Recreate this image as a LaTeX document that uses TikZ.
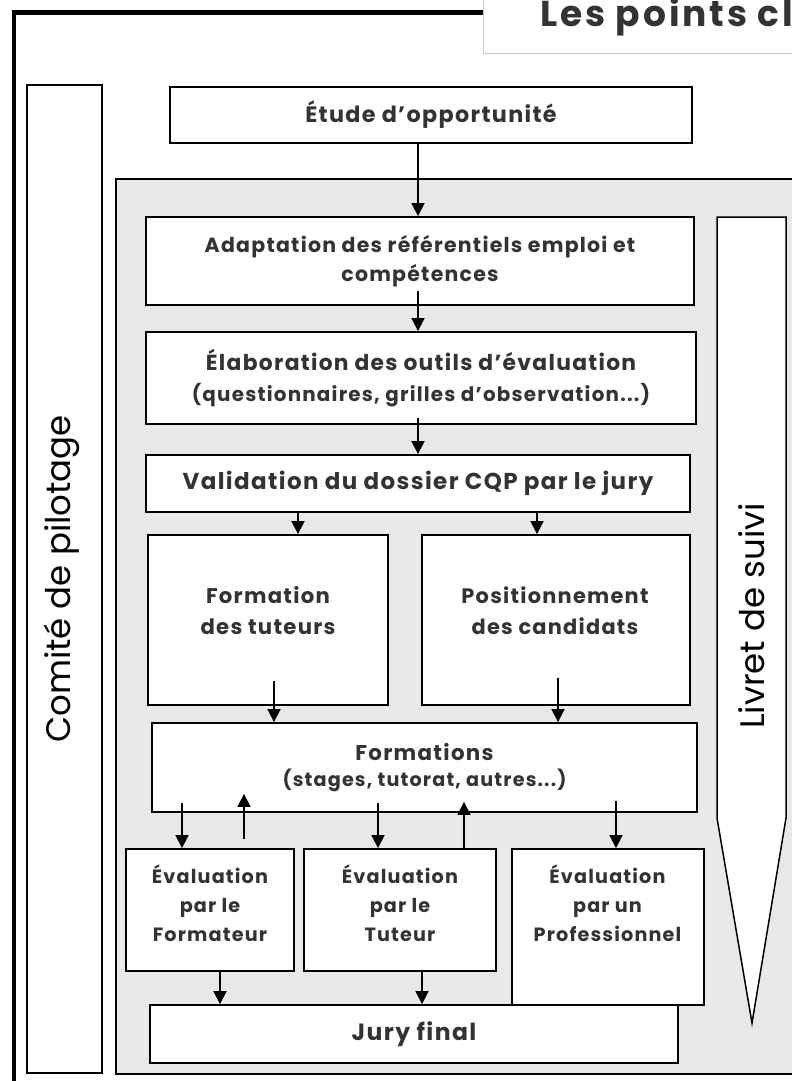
\documentclass[tikz,border=0pt]{standalone}
\usepackage{fontspec}
\setmainfont{Poppins}[LetterSpace=6]
\newfontfamily\gothic{Poppins}
\usetikzlibrary{arrows.meta,calc}
\definecolor{panelgrey}{HTML}{E8E8E8}
\definecolor{ink}{HTML}{333333}
\definecolor{titleline}{HTML}{C8C8C8}
\newcommand\myfs[2]{\fontsize{#1}{#2}\selectfont}
\tikzset{
  box/.style={draw=black, line width=1.8pt, fill=white, inner sep=0pt, align=center, text=ink},
  txt/.style={inner sep=0pt, align=center, text=ink},
  arr/.style={line width=1.6pt, -{Triangle[length=13pt,width=13pt]}},
  sidetext/.style={inner sep=0pt, rotate=90, text=black, font=\gothic\myfs{34}{38}},
}
\begin{document}
\begin{tikzpicture}[x=1pt,y=-1pt]
\useasboundingbox (0,0) rectangle (792,1081);
\clip (0,0) rectangle (792,1081);
% outer frame
\draw[line width=4.5pt, line join=miter] (483,12.5) -- (14,12.5) -- (14,1100);
% title
\node[draw=titleline, line width=1pt, fill=white, minimum width=340pt, minimum height=70pt, anchor=south west] (titlebox) at (483,54) {};
\node[txt, anchor=base west, font=\bfseries\addfontfeature{LetterSpace=8}\myfs{36}{40}] (title) at (540,27) {Les points cl};
% side box
\node[box, minimum width=75pt, minimum height=988pt] (comite) at (64.5,579) {};
\node[sidetext] (comitet) at (62,579) {Comité de pilotage};
% top box
\node[box, minimum width=522pt, minimum height=56pt, font=\bfseries\myfs{22.3}{26}] (etude) at (431,115) {Étude d’opportunité};
% grey panel
\node[draw=black, line width=1.8pt, fill=panelgrey, minimum width=720pt, minimum height=895pt, anchor=north west, inner sep=0pt] (panel) at (115,178) {};
% livret
\draw[line width=1.5pt, fill=white] (717,217) -- (786,217) -- (786,818) -- (752,1023) -- (717,818) -- cycle;
\node[sidetext] (livret) at (752,616) {Livret de suivi};
% boxes
\node[box, minimum width=548pt, minimum height=88pt, font=\bfseries\myfs{20.5}{29}] (adapt) at (420,261) {Adaptation des référentiels emploi et\\compétences};
\node[box, minimum width=550pt, minimum height=92pt, font=\bfseries\myfs{21.8}{31}] (elab) at (421,378) {Élaboration des outils d’évaluation\\{\myfs{19.9}{31}(questionnaires, grilles d’observation...)}};
\node[box, minimum width=544pt, minimum height=57pt, font=\bfseries\myfs{23}{26}] (valid) at (418,483.5) {Validation du dossier CQP par le jury};
\node[box, minimum width=240pt, minimum height=170pt] (ftut) at (268,620) {};
\node[txt, font=\bfseries\myfs{21.2}{31}] (ftutt) at (268,611) {Formation\\des tuteurs};
\node[box, minimum width=268pt, minimum height=170pt] (posit) at (556,620) {};
\node[txt, font=\bfseries\myfs{20.9}{31}] (positt) at (555,611) {Positionnement\\des candidats};
\node[box, minimum width=545pt, minimum height=89pt, font=\bfseries\myfs{21.4}{26}] (forms) at (424.5,767.5) {Formations\\{\myfs{19.2}{26}(stages, tutorat, autres...)}};
\node[box, minimum width=168pt, minimum height=122pt] (evf) at (210,910) {};
\node[txt, font=\bfseries\myfs{19.2}{29}] (evft) at (210,903) {Évaluation\\par le\\Formateur};
\node[box, minimum width=192pt, minimum height=122pt] (evt) at (400,910) {};
\node[txt, font=\bfseries\myfs{19.2}{29}] (evtt) at (400,903) {Évaluation\\par le\\Tuteur};
\node[box, minimum width=192pt, minimum height=156pt] (evp) at (608,927) {};
\node[txt, font=\bfseries\myfs{19.2}{29}] (evpt) at (607.5,903) {Évaluation\\par un\\Professionnel};
\node[box, minimum width=528pt, minimum height=58pt, font=\bfseries\myfs{23.5}{26}] (jury) at (414,1034) {Jury final};
% arrow columns
\coordinate (cA) at (418,0);
\coordinate (cB) at (298,0);
\coordinate (cC) at (537,0);
\coordinate (cD) at (274,0);
\coordinate (cE) at (558,0);
\coordinate (cF) at (182,0);
\coordinate (cG) at (244,0);
\coordinate (cH) at (378,0);
\coordinate (cI) at (464,0);
\coordinate (cJ) at (616,0);
\coordinate (cK) at (220,0);
\coordinate (cL) at (422,0);
% arrows
\draw[arr] (cA |- etude.south) -- (cA |- adapt.north);
\draw[arr] ($(cA |- adapt.south)+(0,-15)$) -- (cA |- elab.north);
\draw[arr] ($(cA |- elab.south)+(0,-7)$) -- (cA |- valid.north);
\draw[arr] (cB |- valid.south) -- (cB |- ftut.north);
\draw[arr] (cC |- valid.south) -- (cC |- posit.north);
\draw[arr] ($(cD |- ftut.south)+(0,-25)$) -- (cD |- forms.north);
\draw[arr] ($(cE |- posit.south)+(0,-28)$) -- (cE |- forms.north);
\draw[arr] ($(cF |- forms.south)+(0,-10)$) -- (cF |- evf.north);
\draw[arr] ($(cG |- evf.north)+(0,-9)$) -- ($(cG |- forms.south)+(0,-19)$);
\draw[arr] ($(cH |- forms.south)+(0,-10)$) -- (cH |- evt.north);
\draw[arr] (cI |- evt.north) -- ($(cI |- forms.south)+(0,-11)$);
\draw[arr] ($(cJ |- forms.south)+(0,-12)$) -- (cJ |- evp.north);
\draw[arr] (cK |- evf.south) -- (cK |- jury.north);
\draw[arr] (cL |- evt.south) -- (cL |- jury.north);
\end{tikzpicture}
\end{document}
